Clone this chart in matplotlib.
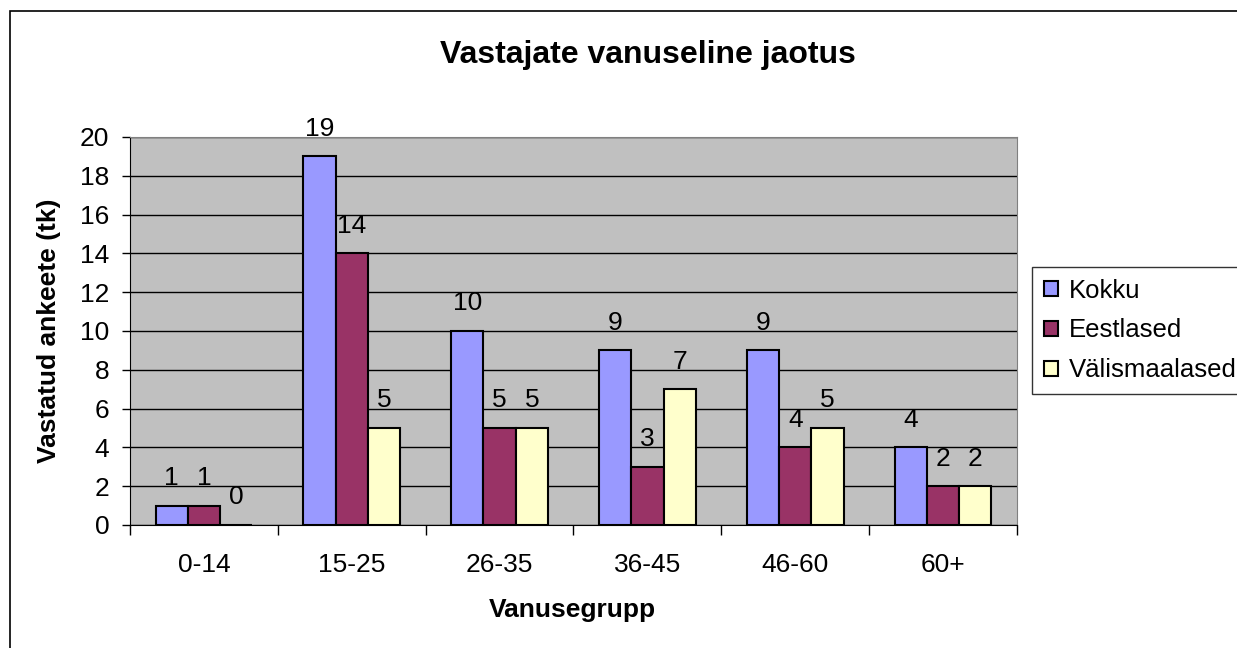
import matplotlib
matplotlib.use("Agg")
import matplotlib.pyplot as plt
import numpy as np
from matplotlib.patches import Rectangle

categories = ["0-14", "15-25", "26-35", "36-45", "46-60", "60+"]
kokku = [1, 19, 10, 9, 9, 4]
eestlased = [1, 14, 5, 3, 4, 2]
valismaalased = [0, 5, 5, 7, 5, 2]
series_names = ["Kokku", "Eestlased", "Välismaalased"]
colors = ["#9999FF", "#993366", "#FFFFCC"]
yticks = list(range(0, 21, 2))

plt.rcParams['font.family'] = ['Liberation Sans', 'DejaVu Sans']

W, H = 1237, 648
fig = plt.figure(figsize=(W/100, H/100), dpi=100)
# outer border (right and bottom run off the image)
fig.patches.append(Rectangle((10/W, -0.05), 1.1, 1.05 - 11/H, transform=fig.transFigure,
                             fill=False, edgecolor='black', linewidth=1.2))

ax = fig.add_axes([130/W, 1 - 525/H, (1017-130)/W, (525-137)/H])
ax.set_facecolor("#C0C0C0")
x = np.arange(len(categories))
bw = 0.218
for i, (vals, c, name) in enumerate(zip([kokku, eestlased, valismaalased], colors, series_names)):
    pos = x + (i - 1) * bw
    ax.bar(pos, vals, bw, color=c, edgecolor='black', linewidth=1.5, label=name, zorder=3)
    for p, v in zip(pos, vals):
        ax.text(p, v + 0.8, str(v), ha='center', va='bottom', fontsize=19, zorder=4,
                clip_on=False)

ax.set_xlim(-0.5, len(categories) - 0.5)
ax.set_ylim(0, 20)
ax.set_yticks(yticks)
ax.yaxis.grid(True, color='black', linewidth=1, zorder=1)
ax.set_axisbelow(True)
ax.set_xticks(x)
ax.set_xticklabels(categories, fontsize=19)
ax.tick_params(axis='x', length=0, pad=20)
ax.set_xticks(np.arange(-0.5, len(categories)), minor=True)
ax.tick_params(axis='x', which='minor', length=7, width=1, direction='out')
ax.tick_params(axis='y', labelsize=19, length=6, width=1, direction='out', pad=9)
for s in ['top', 'right']:
    ax.spines[s].set_color('#808080')
ax.spines['bottom'].set_color('black')
ax.spines['left'].set_color('black')

fig.text(49/W, 1 - 331/H, "Vastatud ankeete (tk)", rotation=90, ha='center', va='center',
         fontsize=19, fontweight='bold')
fig.text(572/W, 1 - 610/H, "Vanusegrupp", ha='center', va='center',
         fontsize=19, fontweight='bold')
fig.text(648/W, 1 - 55/H, "Vastajate vanuseline jaotus", ha='center', va='center',
         fontsize=23, fontweight='bold')

leg = fig.legend(loc='upper left', bbox_to_anchor=(1032/W, 1 - 267/H), fontsize=18.5,
                 frameon=True, fancybox=False, edgecolor='black', handlelength=0.55,
                 handleheight=0.55, handletextpad=0.45, borderpad=0.45, labelspacing=0.62,
                 borderaxespad=0)
leg.get_frame().set_linewidth(1)

fig.savefig("out.png", dpi=100)
